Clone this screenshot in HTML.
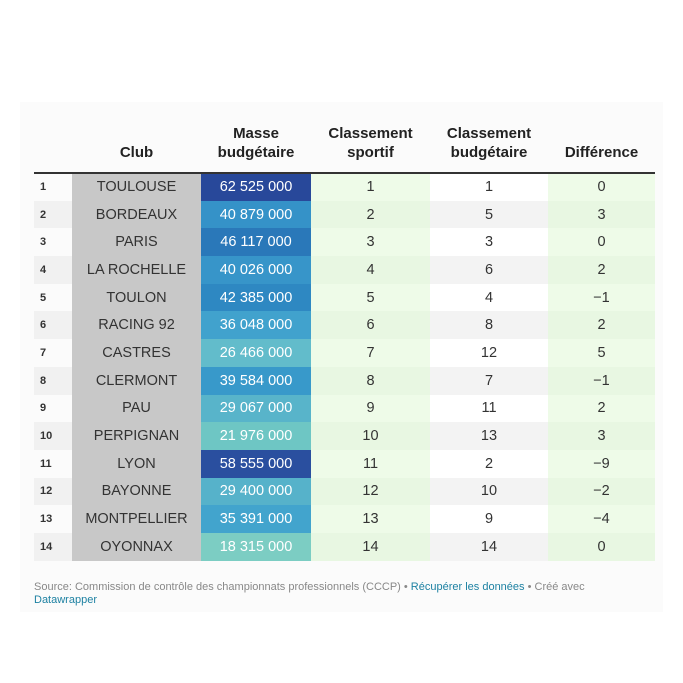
<!DOCTYPE html><html><head><meta charset="utf-8"><style>
body{margin:0;width:683px;height:683px;background:#fff;font-family:"Liberation Sans",sans-serif;position:relative;overflow:hidden}
.card{position:absolute;left:20px;top:102px;width:643px;height:510px;background:#fbfbfb}
table{position:absolute;left:34px;top:124px;border-collapse:collapse;width:621px;table-layout:fixed}
th{font-weight:bold;font-size:15px;color:#222;vertical-align:bottom;padding:0 0 10px;line-height:19px;text-align:center}
thead tr{border-bottom:2px solid #333}
td{height:27.7px;padding:0;text-align:center;font-size:14.5px;color:#333;box-sizing:border-box}
td.r{font-weight:bold;font-size:11px;text-align:left;padding-left:6px}
td.c{background:#c8c8c8;color:#333}
td.m{color:#fff}
td.s,td.d{background:#eefbe8}
td.b{background:#fff}
tr:nth-child(even) td.r{background:#f1f1f1}
tr:nth-child(even) td.b{background:#f3f3f3}
tr:nth-child(even) td.s,tr:nth-child(even) td.d{background:#e8f7e2}
.f{position:absolute;left:34px;top:581px;font-size:11px;color:#888;line-height:13px;width:600px}
.f a{color:#1d81a2;text-decoration:none}
</style></head><body><div class="card"></div>
<table><colgroup><col style="width:38px"><col style="width:129px"><col style="width:110px"><col style="width:119px"><col style="width:118px"><col style="width:107px"></colgroup>
<thead><tr><th></th><th>Club</th><th>Masse<br>budgétaire</th><th>Classement<br>sportif</th><th>Classement<br>budgétaire</th><th>Différence</th></tr></thead><tbody>
<tr><td class="r">1</td><td class="c">TOULOUSE</td><td class="m" style="background:#28489a">62 525 000</td><td class="s">1</td><td class="b">1</td><td class="d">0</td></tr>
<tr><td class="r">2</td><td class="c">BORDEAUX</td><td class="m" style="background:#3592c8">40 879 000</td><td class="s">2</td><td class="b">5</td><td class="d">3</td></tr>
<tr><td class="r">3</td><td class="c">PARIS</td><td class="m" style="background:#2a78b9">46 117 000</td><td class="s">3</td><td class="b">3</td><td class="d">0</td></tr>
<tr><td class="r">4</td><td class="c">LA ROCHELLE</td><td class="m" style="background:#3795c9">40 026 000</td><td class="s">4</td><td class="b">6</td><td class="d">2</td></tr>
<tr><td class="r">5</td><td class="c">TOULON</td><td class="m" style="background:#2e88c2">42 385 000</td><td class="s">5</td><td class="b">4</td><td class="d">−1</td></tr>
<tr><td class="r">6</td><td class="c">RACING 92</td><td class="m" style="background:#41a2cd">36 048 000</td><td class="s">6</td><td class="b">8</td><td class="d">2</td></tr>
<tr><td class="r">7</td><td class="c">CASTRES</td><td class="m" style="background:#62bccb">26 466 000</td><td class="s">7</td><td class="b">12</td><td class="d">5</td></tr>
<tr><td class="r">8</td><td class="c">CLERMONT</td><td class="m" style="background:#3899ca">39 584 000</td><td class="s">8</td><td class="b">7</td><td class="d">−1</td></tr>
<tr><td class="r">9</td><td class="c">PAU</td><td class="m" style="background:#58b4ca">29 067 000</td><td class="s">9</td><td class="b">11</td><td class="d">2</td></tr>
<tr><td class="r">10</td><td class="c">PERPIGNAN</td><td class="m" style="background:#6ec6c4">21 976 000</td><td class="s">10</td><td class="b">13</td><td class="d">3</td></tr>
<tr><td class="r">11</td><td class="c">LYON</td><td class="m" style="background:#2a4f9f">58 555 000</td><td class="s">11</td><td class="b">2</td><td class="d">−9</td></tr>
<tr><td class="r">12</td><td class="c">BAYONNE</td><td class="m" style="background:#56b2ca">29 400 000</td><td class="s">12</td><td class="b">10</td><td class="d">−2</td></tr>
<tr><td class="r">13</td><td class="c">MONTPELLIER</td><td class="m" style="background:#42a4cd">35 391 000</td><td class="s">13</td><td class="b">9</td><td class="d">−4</td></tr>
<tr><td class="r">14</td><td class="c">OYONNAX</td><td class="m" style="background:#7ccdc3">18 315 000</td><td class="s">14</td><td class="b">14</td><td class="d">0</td></tr>
</tbody></table>
<div class="f">Source: Commission de contrôle des championnats professionnels (CCCP) • <a>Récupérer les données</a> • Créé avec <a>Datawrapper</a></div>
</body></html>
